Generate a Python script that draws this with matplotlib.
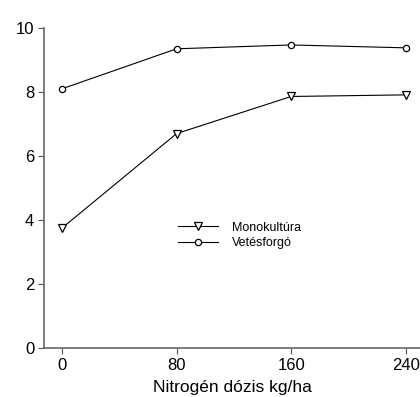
import matplotlib
matplotlib.use("Agg")
import matplotlib.pyplot as plt

plt.rcParams['font.family'] = ['Liberation Sans', 'DejaVu Sans']

nitrogen = [0, 80, 160, 240]
monokultura = [3.75, 6.70, 7.86, 7.91]
vetesforgo = [8.10, 9.35, 9.47, 9.38]
x_ticks = [0, 80, 160, 240]
y_ticks = [0, 2, 4, 6, 8, 10]

fig = plt.figure(figsize=(4.20, 3.97), dpi=100)
ax = fig.add_axes([0.1048, 0.1234, 0.8952, 0.8061])

ax.plot(nitrogen, monokultura, color='black', lw=0.8, marker='v',
        markersize=5.5, markerfacecolor='white', markeredgecolor='black',
        markeredgewidth=0.9, label='Monokultúra')
ax.plot(nitrogen, vetesforgo, color='black', lw=0.8, marker='o',
        markersize=4.5, markerfacecolor='white', markeredgecolor='black',
        markeredgewidth=0.9, label='Vetésforgó')

ax.set_xlim(-12.6, 250)
ax.set_ylim(0, 10)
ax.set_xticks(x_ticks)
ax.set_yticks(y_ticks)
ax.tick_params(axis='both', direction='out', length=4, width=0.8,
               color='#555555', labelsize=12, pad=3)

for side in ('top', 'right'):
    ax.spines[side].set_visible(False)
for side in ('left', 'bottom'):
    ax.spines[side].set_color('#666666')
    ax.spines[side].set_linewidth(1.2)

ax.set_xlabel('Nitrogén dózis kg/ha', fontsize=12.5, labelpad=5)

ax.legend(loc='center left', bbox_to_anchor=(0.356, 0.352), frameon=False,
          fontsize=9, handlelength=3.2, handletextpad=1.1, labelspacing=0.25,
          borderpad=0, borderaxespad=0)

fig.savefig('out.png', dpi=100)
